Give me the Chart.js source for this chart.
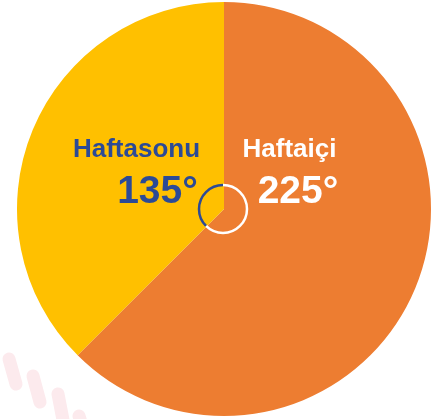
<!DOCTYPE html>
<html><head><meta charset="utf-8">
<script src="https://cdn.jsdelivr.net/npm/chart.js@4"></script>
<style>html,body{margin:0;padding:0;background:#fff}#wrap{width:439px;height:419px;position:relative}</style>
</head><body><div id="wrap"><canvas id="c" width="439" height="419"></canvas></div>
<script>
const categories = ['Haftaiçi', 'Haftasonu'];
const degrees = [225, 135];
const colors = ['#ED7D31', '#FFC000'];
const textColors = ['#FFFFFF', '#2C4A96'];
const centerArcColors = ['#FFFFFF', '#2C4A96'];

const decor = {
  id: 'decor',
  beforeDraw(chart) {
    const ctx = chart.ctx;
    ctx.save();
    ctx.strokeStyle = '#FCEAED';
    ctx.lineCap = 'round';
    ctx.lineJoin = 'round';
    ctx.lineWidth = 13;
    const segs = [[9,359,16,384],[33,376,40,402],[58,394,63,420],[79,416,84,432]];
    segs.forEach(s => { ctx.beginPath(); ctx.moveTo(s[0], s[1]); ctx.lineTo(s[2], s[3]); ctx.stroke(); });
    ctx.restore();
  }
};

const labelsPlugin = {
  id: 'labelsPlugin',
  afterDatasetsDraw(chart) {
    const ctx = chart.ctx;
    const meta = chart.getDatasetMeta(0);
    const arc0 = meta.data[0];
    const cx = arc0.x, cy = arc0.y;
    ctx.save();
    ctx.textAlign = 'center';
    ctx.textBaseline = 'alphabetic';
    // Haftaiçi
    ctx.fillStyle = textColors[0];
    ctx.font = 'bold 26px "Liberation Sans", Arial, sans-serif';
    ctx.fillText(categories[0], cx + 65.5, cy - 52);
    ctx.font = 'bold 39px "Liberation Sans", Arial, sans-serif';
    ctx.fillText(degrees[0] + '°', cx + 74, cy - 6);
    // Haftasonu
    ctx.fillStyle = textColors[1];
    ctx.font = 'bold 26px "Liberation Sans", Arial, sans-serif';
    ctx.fillText(categories[1], cx - 87.5, cy - 52);
    ctx.font = 'bold 39px "Liberation Sans", Arial, sans-serif';
    ctx.fillText(degrees[1] + '°', cx - 66.5, cy - 6);
    // center arcs
    ctx.lineWidth = 2.5;
    meta.data.forEach((a, i) => {
      ctx.beginPath();
      ctx.strokeStyle = centerArcColors[i];
      ctx.arc(cx - 1, cy, 24, a.startAngle, a.endAngle);
      ctx.stroke();
    });
    ctx.restore();
  }
};

new Chart(document.getElementById('c'), {
  type: 'pie',
  data: {
    labels: categories,
    datasets: [{ data: degrees, backgroundColor: colors, borderWidth: 0, hoverOffset: 0 }]
  },
  options: {
    responsive: false,
    animation: false,
    layout: { padding: { left: 17, right: 8, top: 2, bottom: 3 } },
    plugins: { legend: { display: false }, tooltip: { enabled: false } }
  },
  plugins: [decor, labelsPlugin]
});
</script></body></html>
